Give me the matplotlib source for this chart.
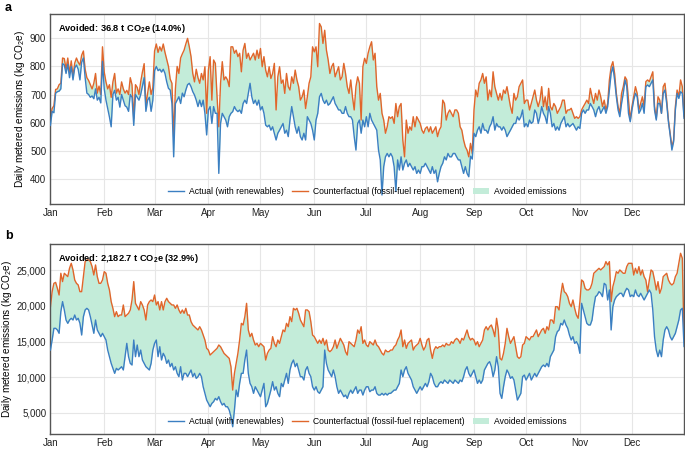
import numpy as np
import pandas as pd
import matplotlib
matplotlib.use("Agg")
import matplotlib.pyplot as plt
from matplotlib.ticker import FuncFormatter, MultipleLocator
from matplotlib.patches import Patch
from matplotlib.lines import Line2D

plt.rcParams['font.family'] = ['Liberation Sans', 'DejaVu Sans']
plt.rcParams['mathtext.fontset'] = 'custom'
plt.rcParams['mathtext.rm'] = 'Liberation Sans'
plt.rcParams['mathtext.it'] = 'Liberation Sans:italic'
plt.rcParams['mathtext.bf'] = 'Liberation Sans:bold'

# ---------------- data ----------------
dates = pd.date_range("2024-01-01", "2024-12-31", freq="D")
month_labels = ["Jan", "Feb", "Mar", "Apr", "May", "Jun", "Jul", "Aug", "Sep", "Oct", "Nov", "Dec"]

# Panel a (kg CO2e per day)
a_counterfactual = [
    615, 650, 660, 718, 720, 735, 740, 830, 828, 790, 830, 775, 820, 765, 812, 830, 815, 805, 840, 855,
    790, 760, 750, 735, 720, 740, 775, 705, 730, 700, 870, 780, 745, 720, 735, 690, 745, 775, 705, 720,
    700, 745, 720, 705, 715, 700, 760, 735, 615, 735, 725, 700, 745, 780, 810, 660, 705, 745, 700, 725,
    855, 880, 850, 870, 855, 880, 850, 825, 800, 755, 740, 548, 720, 800, 775, 830, 845, 858, 880, 900,
    870, 835, 775, 745, 790, 760, 740,
    775, 752, 799, 633, 787, 835, 680, 823, 811, 692, 585, 740, 817, 752, 763, 752,
    728, 870, 870, 847, 858, 835, 847, 781, 858, 882, 829, 847, 823, 835, 847, 823, 858, 829, 864, 799,
    835, 787, 763, 799,
    757, 775, 811, 645, 763, 799, 740, 752, 704, 775, 728, 716, 763, 740, 787, 752, 728, 680, 692, 716,
    650, 692, 740, 763,
    870, 852, 870, 799, 953, 941, 882, 929, 858, 823, 775, 799, 811, 763, 781, 799, 752, 763, 811, 775,
    728, 704, 752, 692, 645, 728,
    763, 740,
    609, 799, 829, 811, 847, 870, 888, 823, 847, 728, 680, 704, 633, 609, 562, 585, 621, 615, 621, 597,
    668, 621, 657,
    668, 538, 478, 609, 562, 585, 573, 621, 585, 621, 609, 597, 573, 562, 579, 585, 567, 585, 562, 573,
    585, 550, 573, 585,
    680, 668, 609, 633, 645, 633, 621, 645, 645, 633, 585, 573, 538, 514, 502, 478, 526, 490, 645, 716,
    692, 740, 752, 775,
    740, 763, 680, 716, 692, 781, 728, 704, 680, 704, 680, 716, 704, 728, 692, 657, 633, 704, 680, 692,
    728, 740,
    752, 668, 680,
    680, 645, 668, 692, 716, 680, 657, 680, 728, 657, 692, 645, 722, 657, 645, 668, 657, 633, 645, 657,
    680, 680, 633, 645,
    645, 651, 633, 615, 621, 615, 621, 645, 657, 668, 680, 668, 722, 692, 668, 704, 680, 716, 692, 657,
    680, 645, 668, 752,
    799, 817, 775, 704, 657, 633, 704, 728, 763, 752, 680, 609, 657, 692, 728, 704, 645, 668, 692, 657,
    746, 752, 746, 763, 781,
    657, 615, 692, 680, 633, 728, 740, 680, 609, 562, 514, 538, 657, 716, 692, 752, 728, 621,
]
a_actual = [
    590, 640, 635, 705, 710, 712, 720, 810, 805, 775, 808, 760, 800, 752, 795, 805, 790, 752, 815, 830,
    760, 705, 700, 690, 695, 685, 720, 680, 690, 670, 818, 720, 680, 650, 620, 585, 700, 715, 680, 690,
    655, 700, 680, 660, 655, 640, 700, 690, 590, 700, 690, 680, 700, 730, 760, 640, 680, 690, 640, 680,
    785, 800, 785, 790, 780, 790, 775, 745, 722, 716, 668, 478, 668, 680, 692, 668, 705, 692, 716, 735,
    740, 728, 710, 698, 680, 657, 680,
    657, 680, 633, 556, 645, 657, 597, 657, 633, 633, 419, 597, 633, 621, 609, 585,
    621, 633, 639, 657, 645, 639, 645, 633, 668, 680, 668, 704, 740, 692, 668, 680, 662, 680, 645, 657,
    633, 591, 585, 591,
    573, 585, 562, 538, 562, 573, 585, 597, 562, 573, 550, 609, 657, 621, 585, 562, 585, 550, 538, 562,
    538, 621, 609, 597,
    573, 538, 609, 633, 692, 704, 680, 668, 680, 662, 668, 680, 692, 668, 657, 645, 645, 633, 633, 657,
    633, 621, 621, 609, 550, 502,
    597, 609,
    562, 609, 585, 621, 585, 633, 609, 597, 585, 573, 502, 467, 342, 443, 478, 490, 478, 490, 478, 443,
    354, 467, 431,
    478, 431, 455, 467, 443, 455, 443, 431, 443, 419, 431, 419, 443, 443, 455, 443, 431, 419, 443, 419,
    431, 389, 419, 443,
    455, 478, 467, 490, 478, 478, 490, 490, 478, 467, 467, 443, 419, 443, 419, 407, 480, 470, 562, 550,
    573, 585, 562, 597,
    573, 573, 562, 585, 597, 621, 573, 597, 585, 585, 573, 585, 573, 550, 562, 573, 585, 597, 597, 621,
    609, 621,
    645, 585, 597,
    585, 609, 597, 603, 645, 633, 597, 621, 657, 633, 621, 597, 657, 633, 585, 597, 573, 585, 573, 597,
    609, 621, 585, 597,
    585, 591, 597, 585, 573, 585, 579, 633, 645, 633, 645, 645, 668, 657, 645, 621, 645, 657, 633, 645,
    657, 633, 657, 716,
    775, 799, 752, 692, 645, 621, 668, 704, 752, 728, 633, 603, 645, 680, 704, 692, 633, 645, 668, 633,
    728, 734, 728, 740, 752,
    645, 609, 668, 668, 633, 704, 716, 668, 603, 556, 502, 532, 645, 704, 686, 710, 704, 615,
]

# Panel b (kg CO2e per day)
b_counterfactual = [
    19890,
    22000, 23170, 23300, 22470, 21530,
    24580, 23410, 24580, 24340, 24110, 25280, 25980, 25050, 23640, 23170, 22940, 22000, 22000, 24110,
    26220, 26450, 26450, 26220, 25520, 24340, 25750, 24110, 23170, 23170, 23640,
    24810, 24580, 23170, 22240, 20600, 19660, 18490, 19190, 18490, 18720, 18720, 20130, 18490, 18720,
    18960, 19430, 20830, 23410, 20360, 19890, 19430, 20600, 20130, 19430, 18020,
    20130, 20600, 20830, 20600, 21530, 20130, 20600, 19430, 20600, 19430, 20600, 21070, 20600, 20360,
    20130, 20130, 19660, 20130, 19430, 18960, 19430, 18960, 19660, 18720,
    18720, 17790, 17320, 17080, 16850, 16620, 17080,
    16620, 15910, 15210, 14040, 13800, 13100, 13340, 13570, 13800, 14040, 14510, 14270, 13800, 13340,
    13100, 12870,
    12630, 11460, 8180, 10530, 11930, 13340, 15210, 17550, 17320, 18490, 20360, 16620, 15680, 16150,
    15210, 14510, 14740, 14270, 14740, 14510, 14270, 12400, 13340, 13800,
    14040, 15680, 14740, 14270, 15210, 14740, 15680, 16620, 16380, 17550, 17080, 18490, 17790, 19660,
    19430, 19660, 18960, 18020, 17550, 17080, 19430, 19430, 19190, 17790,
    15910, 15680, 15210, 14740, 15210, 14740, 15440, 14510, 15210, 13800, 13570, 13800, 14270, 15210,
    14040, 14740, 15440, 14980, 14510, 13570, 13100, 14980, 14740, 14510, 14270, 15210,
    16620, 16150,
    17080, 14740, 15210, 14510, 14270, 14980, 14740, 14510, 15210, 14510, 14270, 13800, 13340, 13100,
    13800, 13570, 13570, 13800, 13800, 14270, 14510, 15210, 15680,
    16620, 14270, 15210, 14040, 14740, 14980, 15210, 13800, 14270, 14510, 14740, 15440, 14510, 13800,
    14270, 15210, 15440, 13800, 12630, 13800, 14270, 14040, 14270, 14270,
    14510, 14270, 14740, 14510, 14510, 14980, 14740, 15210, 15440, 15210, 14740, 15440, 15210, 15910,
    16620, 15680, 15210, 15440, 15210, 14510, 14980, 14270, 14740, 15210,
    16620, 17080, 16620, 17080, 17320, 16620, 15680, 18260, 16620, 12630, 12400, 13340, 14740, 16850,
    15680, 14740, 15210, 15680, 14270, 12870, 12630, 12870,
    14510, 14740, 15680,
    15440, 15210, 15680, 15680, 16150, 16620, 15680, 16150, 16620, 16850, 16150, 17080, 16620, 18020,
    18020, 17550, 19890, 19890, 19430, 21530, 23170, 22000, 21770, 21300,
    20360, 19890, 20830, 19660, 18720, 18260, 20600, 23640, 23410, 22470, 22240, 22240, 22470, 23170,
    24580, 24810, 25050, 25280, 25050, 25280, 25520, 26220, 25750, 26220,
    20600, 22710, 23640, 24810, 24580, 25050, 24810, 24580, 24580, 25520, 25980, 25980, 25980, 24340,
    25280, 24580, 25520, 24340, 25050, 24110, 23640, 22000, 23640, 25050, 24810,
    23640, 22240, 23410, 21770, 22470, 24110, 24340, 24580, 23640, 23170, 22940, 23170, 24110, 24580,
    25980, 27390, 26690, 15500,
]
b_actual = [
    13800,
    15210, 16850, 16850, 16620, 16150,
    19190, 20600, 19430, 18020, 17550, 18020, 18260, 18020, 18720, 18020, 18260, 17550, 15910, 18490,
    19430, 19660, 19430, 18490, 17320, 16150, 18020, 16620, 16150, 15680, 16150,
    15680, 15210, 13800, 12870, 11930, 11230, 10530, 11230, 11000, 11230, 11460, 11000, 12870, 14740,
    12870, 11930, 11700, 15210, 12870, 14510, 12870, 13800, 12400, 11930, 11460,
    11230, 11000, 11930, 13800, 14740, 15210, 12870, 14270, 12400, 13340, 12870, 11930, 12400, 11460,
    11930, 11000, 11460, 10530, 10060, 11460, 9590, 10530, 10530, 10060,
    10530, 11000, 10060, 10530, 9820, 10060, 10530,
    10060, 8650, 7720, 6780, 6310, 5840, 6310, 6550, 7010, 6780, 7250, 6550, 6080, 6310, 5840, 5840,
    5370, 4440, 3030, 5370, 8180, 7250, 9120, 10530, 10530, 12400, 13800, 10530, 9120, 8650, 7720, 8650,
    8180, 7720, 7250, 8180, 9120, 5840, 6310, 7250,
    8180, 9360, 8180, 8650, 7720, 7250, 9120, 8650, 9590, 10530, 9120, 11000, 11930, 12400, 11460,
    11930, 11000, 10060, 10060, 9590, 11000, 11460, 10530, 10060,
    8650, 8180, 8650, 7950, 7720, 8180, 8650, 13800, 11930, 11000, 10530, 10060, 11000, 10060, 8650,
    7720, 8180, 7720, 7250, 7480, 7010, 7720, 8180, 7720, 8180, 8650,
    7720, 8180,
    8180, 7480, 8180, 8650, 8650, 7950, 8180, 8180, 8650, 7720, 7480, 7480, 7720, 7480, 7720, 7480,
    7720, 7720, 7950, 8180, 8180, 8650, 9120,
    11000, 10060, 11000, 11460, 10530, 10060, 9590, 8650, 8180, 7720, 8180, 8650, 8180, 8650, 9120,
    8650, 9360, 10530, 10060, 9120, 8650, 8650, 9120, 9360,
    9120, 9590, 9360, 9120, 9590, 9360, 9120, 9590, 9360, 9120, 9590, 9360, 10060, 11000, 11460, 10530,
    10060, 10530, 11000, 10060, 9120, 9590, 9120, 9590,
    11000, 11460, 11930, 12170, 11460, 10060, 11000, 12870, 11460, 7720, 7010, 8650, 10060, 11000,
    10530, 9820, 10060, 9590, 8180, 6780, 7250, 7720,
    10060, 10290, 9590,
    10060, 10530, 9590, 10060, 10530, 10060, 10530, 11000, 11460, 11700, 11460, 11930, 11460, 12870,
    13340, 13800, 15680, 16380, 16620, 17550, 17320, 18020, 17320, 16850,
    15910, 15210, 15680, 14740, 14980, 14510, 13340, 20360, 19430, 18490, 17550, 17320, 17320, 18020,
    19890, 21300, 21530, 22000, 21770, 21300, 23170, 22940, 20830, 22240,
    16620, 19890, 20830, 21300, 21530, 21770, 21770, 21300, 22000, 22470, 22240, 21300, 21530, 21300,
    22240, 21530, 21300, 21770, 21300, 20830, 21300, 21770, 22240, 21770, 19430,
    15680, 13800, 12870, 13800, 12870, 15210, 16620, 17080, 16620, 15680, 15210, 15680, 16150, 17080,
    18020, 19430, 19660, 14300,
]

a_note = "Avoided: 36.8 t CO$_\\mathbf{2}$e (14.0%)"
b_note = "Avoided: 2,182.7 t CO$_\\mathbf{2}$e (32.9%)"
ylabel = "Daily metered emissions (kg CO$_2$e)"
legend_labels = ["Actual (with renewables)", "Counterfactual (fossil-fuel replacement)", "Avoided emissions"]

# ---------------- style ----------------
BLUE = "#3b7fc2"
ORANGE = "#e0662b"
FILL = "#c3ecd9"
GRID = "#e6e6e6"
SPINE = "#555555"

fig = plt.figure(figsize=(6.85, 4.49), dpi=100)
ax_a = fig.add_axes([0.0736, 0.5457, 0.925, 0.4232])
ax_b = fig.add_axes([0.0736, 0.0334, 0.925, 0.4225])

month_starts = pd.date_range("2024-01-01", "2024-12-01", freq="MS")


def draw(ax, actual, cf, ylim, major, note, fmt):
    ax.set_axisbelow(True)
    ax.fill_between(dates, actual, cf, color=FILL, lw=0, zorder=1)
    ax.plot(dates, actual, color=BLUE, lw=1.0, zorder=3)
    ax.plot(dates, cf, color=ORANGE, lw=1.0, zorder=2)
    ax.set_xlim(dates[0], dates[-1])
    ax.set_ylim(*ylim)
    ax.set_xticks(month_starts)
    ax.set_xticklabels(month_labels)
    ax.yaxis.set_major_locator(MultipleLocator(major))
    if fmt:
        ax.yaxis.set_major_formatter(FuncFormatter(lambda v, p: f"{int(v):,}"))
    ax.grid(True, color=GRID, lw=0.8)
    for s in ax.spines.values():
        s.set_color(SPINE)
        s.set_linewidth(1.0)
    ax.tick_params(axis="both", length=0, labelsize=7, colors="#222222", pad=3)
    ax.set_ylabel(ylabel, fontsize=7.2, labelpad=2)
    ax.text(0.012, 0.925, note, transform=ax.transAxes, fontsize=6.7,
            fontweight="bold", ha="left", va="center")
    handles = [Line2D([0], [0], color=BLUE, lw=1.0),
               Line2D([0], [0], color=ORANGE, lw=1.0),
               Patch(facecolor=FILL, edgecolor="none")]
    ax.legend(handles, legend_labels, loc="lower center", ncol=3, frameon=False,
              fontsize=6.2, handlelength=1.8, columnspacing=1.0, handletextpad=0.6,
              bbox_to_anchor=(0.5, 0.0))


draw(ax_a, a_actual, a_counterfactual, (310, 987), 100, a_note, False)
draw(ax_b, b_actual, b_counterfactual, (2010, 28650), 5000, b_note, True)

fig.text(0.007, 0.995, "a", fontsize=9, fontweight="bold", ha="left", va="top")
fig.text(0.007, 0.487, "b", fontsize=9, fontweight="bold", ha="left", va="top")

fig.savefig("out.png", dpi=100)
